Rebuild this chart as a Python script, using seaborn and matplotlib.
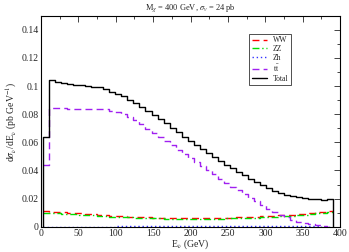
import numpy as np
import pandas as pd
import matplotlib
matplotlib.use("Agg")
import matplotlib.pyplot as plt
from matplotlib.ticker import MultipleLocator
import seaborn as sns

# bin edges in E_nu (GeV), 48 bins
edges = np.linspace(2.5, 390, 49)

total = [0.0640, 0.1040, 0.1027, 0.1020, 0.1013, 0.1008, 0.1004, 0.0999, 0.0994, 0.0990,
         0.0978, 0.0961, 0.0945, 0.0926, 0.0903, 0.0879, 0.0851, 0.0821, 0.0793, 0.0763,
         0.0735, 0.0704, 0.0672, 0.0641, 0.0610, 0.0582, 0.0552, 0.0524, 0.0496, 0.0465,
         0.0440, 0.0416, 0.0390, 0.0365, 0.0342, 0.0318, 0.0295, 0.0274, 0.0256, 0.0240,
         0.0227, 0.0217, 0.0209, 0.0203, 0.0199, 0.0195, 0.0192, 0.0199]
ttbar = [0.0440, 0.0842, 0.0841, 0.0841, 0.0840, 0.0840, 0.0840, 0.0839, 0.0839, 0.0839,
         0.0836, 0.0825, 0.0812, 0.0798, 0.0780, 0.0757, 0.0728, 0.0695, 0.0664, 0.0636,
         0.0606, 0.0578, 0.0547, 0.0519, 0.0489, 0.0458, 0.0430, 0.0402, 0.0372, 0.0342,
         0.0314, 0.0286, 0.0262, 0.0232, 0.0208, 0.0180, 0.0154, 0.0126, 0.0107, 0.0084,
         0.0068, 0.0049, 0.0037, 0.0028, 0.0019, 0.0012, 0.0005, 0.0000]
ww = [0.0110, 0.0108, 0.0106, 0.0104, 0.0101, 0.0098, 0.0095, 0.0092, 0.0089, 0.0086,
      0.0083, 0.0080, 0.0077, 0.0075, 0.0073, 0.0071, 0.0069, 0.0067, 0.0066, 0.0065,
      0.0064, 0.0063, 0.0062, 0.0062, 0.0062, 0.0062, 0.0062, 0.0063, 0.0063, 0.0064,
      0.0065, 0.0066, 0.0067, 0.0069, 0.0070, 0.0072, 0.0074, 0.0076, 0.0078, 0.0081,
      0.0084, 0.0087, 0.0090, 0.0094, 0.0098, 0.0102, 0.0106, 0.0110]
zz = [0.0100, 0.0098, 0.0096, 0.0094, 0.0092, 0.0089, 0.0086, 0.0084, 0.0081, 0.0078,
      0.0076, 0.0073, 0.0071, 0.0069, 0.0067, 0.0065, 0.0063, 0.0062, 0.0060, 0.0059,
      0.0058, 0.0057, 0.0057, 0.0056, 0.0056, 0.0056, 0.0056, 0.0057, 0.0057, 0.0058,
      0.0059, 0.0060, 0.0061, 0.0062, 0.0064, 0.0065, 0.0067, 0.0069, 0.0071, 0.0074,
      0.0077, 0.0080, 0.0083, 0.0087, 0.0091, 0.0095, 0.0099, 0.0103]
zh = [0.0002] * 12 + [0.0006] * 33 + [0.0004, 0.0, 0.0]

sns.set_style("white")
plt.rcParams['font.family'] = ['Liberation Serif', 'DejaVu Serif']
plt.rcParams['mathtext.fontset'] = 'stix'

fig = plt.figure(figsize=(3.49, 2.52), dpi=100)
ax = fig.add_axes([0.1175, 0.1, 0.857, 0.838])


def step_frame(vals, closed=False):
    x = list(edges)
    y = list(vals) + [vals[-1]]
    if closed:
        x = [edges[0]] + x + [edges[-1]]
        y = [0.0] + y + [0.0]
    return pd.DataFrame({"E": x, "v": y})


series = [
    ("WW", ww, "#ff0000", (0, (5, 3)), False),
    ("ZZ", zz, "#00dd00", (0, (5, 2, 1, 2)), False),
    ("Zh", zh, "#3333ff", (0, (1, 2)), False),
    (r"t$\bar{\rm t}$", ttbar, "#a020f0", (0, (5, 3)), False),
    ("Total", total, "black", "-", True),
]

for name, vals, col, ls, closed in series:
    d = step_frame(vals, closed)
    sns.lineplot(data=d, x="E", y="v", ax=ax, estimator=None, sort=False,
                 drawstyle="steps-post", color=col, linestyle=ls, lw=1.0, label=name)

ax.set_xlim(0, 400)
ax.set_ylim(0, 0.15)
ax.xaxis.set_major_locator(MultipleLocator(50))
ax.xaxis.set_minor_locator(MultipleLocator(25))
ax.yaxis.set_minor_locator(MultipleLocator(0.01))
ax.set_yticks([0, 0.02, 0.04, 0.06, 0.08, 0.1, 0.12, 0.14])
ax.set_yticklabels(["0", "0.02", "0.04", "0.06", "0.08", "0.1", "0.12", "0.14"])
ax.tick_params(which="both", direction="in", top=True, right=True, labelsize=7, pad=1.5)
ax.tick_params(which="major", length=4, width=0.6)
ax.tick_params(which="minor", length=2, width=0.6)
for s in ax.spines.values():
    s.set_linewidth(0.8)
    s.set_color("black")

ax.set_xlabel(r"E$_\nu$ (GeV)", fontsize=7, labelpad=0)
ax.set_ylabel(r"d$\sigma_\nu$/dE$_\nu$ (pb GeV$^{-1}$)", fontsize=7, labelpad=2)
ax.set_title(r"M$_\chi$ = 400 GeV, $\sigma_v$ = 24 pb", fontsize=6, pad=4)

leg = ax.legend(loc="upper left", bbox_to_anchor=(0.695, 0.915), fontsize=5.5,
                frameon=True, fancybox=False, handlelength=2.0, handletextpad=0.8,
                borderpad=0.35, labelspacing=0.1, borderaxespad=0)
leg.get_frame().set_edgecolor("black")
leg.get_frame().set_linewidth(0.6)

fig.savefig("out.png", dpi=100)
